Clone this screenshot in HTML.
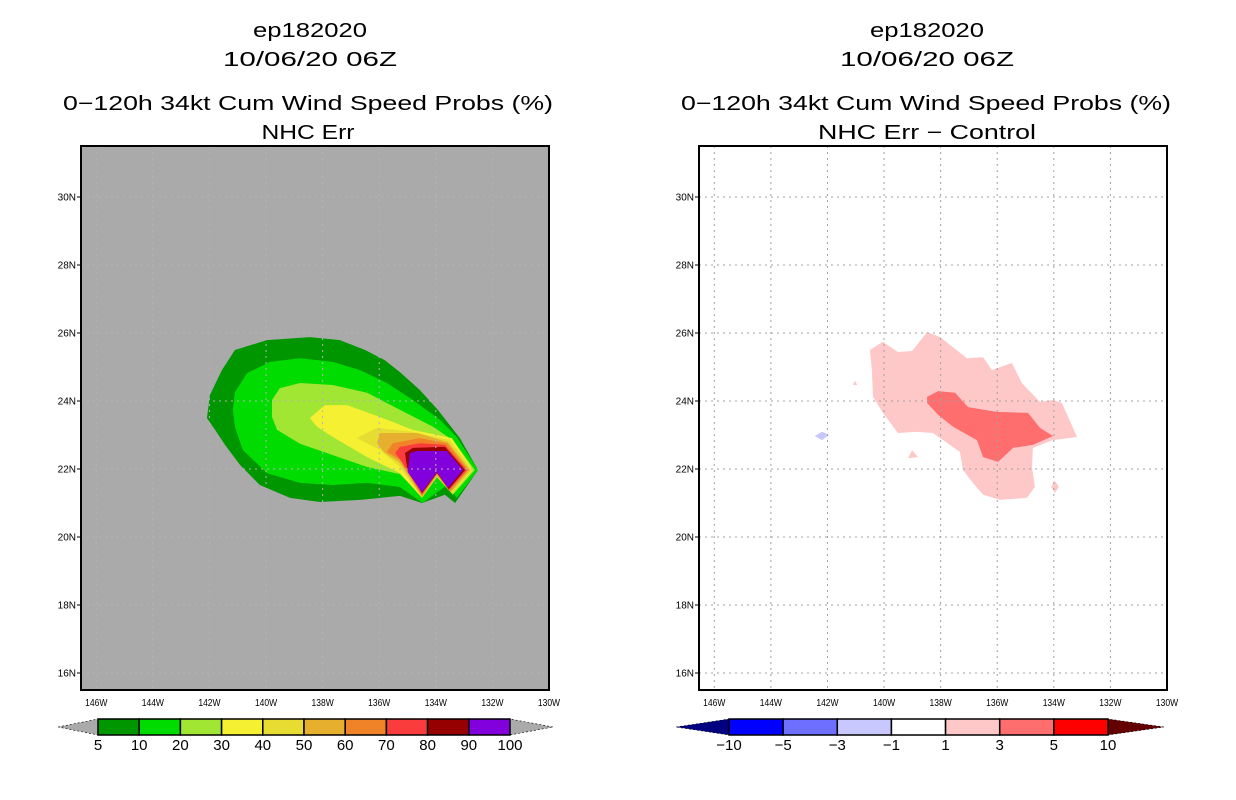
<!DOCTYPE html>
<html><head><meta charset="utf-8">
<style>
html,body{margin:0;padding:0;background:#fff;}
svg{display:block;font-family:"Liberation Sans",sans-serif;}
</style></head>
<body>
<svg id="chart" width="1236" height="800" viewBox="0 0 1236 800" xmlns="http://www.w3.org/2000/svg">
<g font-size="20" text-anchor="middle" fill="#000">
<text x="310" y="37" textLength="114" lengthAdjust="spacingAndGlyphs">ep182020</text>
<text x="310" y="66" textLength="174" lengthAdjust="spacingAndGlyphs">10/06/20 06Z</text>
<text x="308" y="110" textLength="490" lengthAdjust="spacingAndGlyphs">0−120h 34kt Cum Wind Speed Probs (%)</text>
<text x="308" y="139" textLength="93" lengthAdjust="spacingAndGlyphs">NHC Err</text>
</g>
<g font-size="20" text-anchor="middle" fill="#000">
<text x="927" y="37" textLength="114" lengthAdjust="spacingAndGlyphs">ep182020</text>
<text x="927" y="66" textLength="174" lengthAdjust="spacingAndGlyphs">10/06/20 06Z</text>
<text x="926" y="110" textLength="490" lengthAdjust="spacingAndGlyphs">0−120h 34kt Cum Wind Speed Probs (%)</text>
<text x="927" y="139" textLength="218" lengthAdjust="spacingAndGlyphs">NHC Err − Control</text>
</g>
<g id="left"></g>
<g id="right"></g>
<g id="cbars"></g>
</svg>
<script>
const NS='http://www.w3.org/2000/svg';
const lonTicks=[146,144,142,140,138,136,134,132,130];
const latTicks=[30,28,26,24,22,20,18,16];
const probLevels=['5','10','20','30','40','50','60','70','80','90','100'];
const probColors=['#009600','#00dc00','#a0e632','#f5f032','#e6dc32','#e6af2d','#f08228','#fa3c3c','#960000','#8200dc'];
const diffLevels=['−10','−5','−3','−1','1','3','5','10'];
const diffColors=['#0000ff','#6e6eff','#c8c8ff','#ffffff','#ffc8c8','#ff6e6e','#ff0000'];
// probability contour polygons [lonW, latN], levels 5..90
const prob5=[[141.1,25.5],[139.97,25.79],[138.45,25.88],[137.39,25.79],[136.5,25.5],[135.8,25.2],[135.27,24.85],[134.56,24.32],[133.93,23.74],[133.15,22.91],[132.51,21.97],[133.32,21.0],[133.68,21.24],[134.49,21.0],[135.27,21.21],[136.68,21.09],[138.1,21.03],[139.15,21.15],[140.22,21.53],[140.92,22.12],[141.45,22.71],[141.8,23.15],[142.09,23.5],[141.98,24.18],[141.56,24.91]];
const prob10=[[141.1,24.26],[140.67,24.82],[139.86,25.15],[138.8,25.26],[137.64,25.15],[136.68,24.91],[135.73,24.53],[134.81,24.03],[133.85,23.44],[133.26,22.94],[132.51,21.97],[133.26,21.15],[133.61,21.53],[134.46,21.0],[135.27,21.47],[136.43,21.59],[137.64,21.53],[138.8,21.59],[139.97,21.88],[140.82,22.56],[141.1,23.24],[141.17,23.74]];
const prob20=[[139.79,24.03],[139.51,24.38],[138.8,24.53],[137.64,24.47],[136.43,24.24],[135.27,23.74],[134.1,23.24],[133.4,22.85],[132.62,21.97],[133.4,21.24],[133.96,21.76],[134.49,21.18],[135.27,21.85],[136.43,22.06],[137.64,22.41],[138.8,22.74],[139.61,23.15],[139.79,23.53]];
const prob30=[[138.45,23.5],[137.92,23.88],[137.14,23.88],[135.97,23.53],[134.81,23.15],[133.43,22.91],[132.69,21.97],[133.4,21.29],[133.96,21.79],[134.49,21.15],[135.27,21.88],[136.43,22.35],[137.64,22.94],[138.2,23.24]];
const prob40=[[136.79,22.91],[136.08,23.21],[134.81,23.09],[133.5,22.85],[132.72,21.97],[133.43,21.29],[133.96,21.76],[134.49,21.15],[135.27,22.06],[135.97,22.56],[136.58,22.82]];
const prob50=[[136.08,22.76],[135.97,23.06],[134.67,23.06],[133.57,22.79],[132.79,21.97],[133.47,21.32],[133.96,21.79],[134.49,21.18],[135.27,22.18],[135.8,22.47]];
const prob60=[[135.73,22.5],[135.52,22.76],[134.56,22.91],[133.61,22.76],[132.86,21.97],[133.5,21.35],[133.96,21.85],[134.49,21.21],[135.27,22.27]];
const prob70=[[135.44,22.47],[135.27,22.65],[134.56,22.76],[133.68,22.71],[132.9,21.97],[133.54,21.38],[133.96,21.88],[134.49,21.26],[135.2,22.21]];
const prob80=[[135.09,22.47],[134.81,22.62],[133.68,22.65],[132.97,21.97],[133.54,21.41],[133.96,21.88],[134.49,21.29],[135.02,22.06]];
const prob90=[[134.92,22.47],[134.67,22.53],[133.61,22.53],[133.04,21.97],[133.57,21.44],[133.96,21.91],[134.49,21.32],[134.99,21.91]];
const probPolys=[prob5,prob10,prob20,prob30,prob40,prob50,prob60,prob70,prob80,prob90];
// difference contour polygons
const diffPos1=[[140.5,25.5],[140.04,25.74],[139.51,25.44],[139.01,25.47],[138.48,26.03],[138.02,25.88],[137.07,25.26],[136.5,25.29],[136.19,24.91],[135.48,25.12],[135.13,24.53],[134.49,23.97],[134.03,24.03],[133.71,23.94],[133.18,22.94],[134.03,22.85],[134.74,22.62],[134.77,22.06],[134.67,21.47],[134.95,21.15],[135.9,21.09],[136.5,21.24],[136.86,21.59],[137.21,21.97],[137.32,22.5],[138.27,23.06],[138.84,23.09],[139.51,23.06],[140.04,23.65],[140.39,24.12],[140.43,24.91]];
const diffPos3=[[138.48,24.12],[138.09,24.29],[137.49,24.24],[137.03,23.82],[136.01,23.68],[134.91,23.65],[134.49,23.21],[134.03,22.97],[134.74,22.71],[135.44,22.62],[135.97,22.21],[136.5,22.35],[136.72,22.85],[137.56,23.24],[138.09,23.59],[138.48,23.94]];
const diffPosIsl1=[[141.03,24.6],[141.1,24.47],[140.95,24.47]];
const diffPosIsl2=[[139.01,22.55],[138.8,22.35],[139.15,22.32]];
const diffPosIsl3=[[133.96,21.65],[133.82,21.47],[133.96,21.3],[134.1,21.47]];
const diffNegIsl=[[142.19,23.1],[141.95,23.0],[142.19,22.85],[142.45,22.97]];
const diffPolys=[[diffPos1,4],[diffPos3,5],[diffPosIsl1,4],[diffPosIsl2,4],[diffPosIsl3,4],[diffNegIsl,2]];

const WEST=146.54, EAST=130, NORTH=31.5, SOUTH=15.5;
function mk(tag,attrs,parent){const e=document.createElementNS(NS,tag);for(const k in attrs)e.setAttribute(k,attrs[k]);parent.appendChild(e);return e;}
function panel(gid,x0,bg,polys,colors,gridColor){
  const g=document.getElementById(gid);
  const W=468,H=544,y0=146;
  const xs=lon=>x0+(WEST-lon)/(WEST-EAST)*W;
  const ys=lat=>y0+(NORTH-lat)/(NORTH-SOUTH)*H;
  const bgR=mk('rect',{x:x0,y:y0,width:W,height:H,fill:bg},g);
  
  
  polys.forEach(([pts,ci],i)=>{
    const p=mk('polygon',{points:pts.map(q=>xs(q[0]).toFixed(1)+','+ys(q[1]).toFixed(1)).join(' '),fill:colors[ci]},g);
    
    
  });
  lonTicks.forEach(l=>{
    const x=xs(l);
    if(x>x0+2&&x<x0+W-2){const gl=mk('line',{x1:x,y1:y0,x2:x,y2:y0+H,stroke:gridColor,'stroke-width':1,'stroke-dasharray':'2,4'},g);
      
      }
    const t=mk('text',{x:x,y:y0+H+16,'font-size':10,'text-anchor':'middle',fill:'#000',transform:`translate(${x},0) scale(0.85,1) translate(${-x},0)`},g);
    t.textContent=l+'W';
    
    
  });
  latTicks.forEach(l=>{
    const y=ys(l);
    const gl=mk('line',{x1:x0,y1:y,x2:x0+W,y2:y,stroke:gridColor,'stroke-width':1,'stroke-dasharray':'2,4'},g);
    
    
    const tk=mk('line',{x1:x0-4,y1:y,x2:x0,y2:y,stroke:'#000'},g);
    
    
    const t=mk('text',{x:x0-5,y:y+3.5,'font-size':10,'text-anchor':'end',fill:'#000'},g);
    t.textContent=l+'N';
    
    
  });
  const fr=mk('rect',{x:x0,y:y0,width:W,height:H,fill:'none',stroke:'#000','stroke-width':2},g);
  
  
}
panel('left',81,'#aaaaaa',probPolys.map((p,i)=>[p,i]),probColors,'#b4b4b4');
panel('right',699,'#ffffff',diffPolys,diffColors,'#a0a0a0');

function colorbar(x0,x1,lt,rt,colors,labels,ltCol,rtCol){
  const g=document.getElementById('cbars');
  const y0=719,h=16,n=colors.length,w=(x1-x0)/n;
  const a=mk('polygon',{points:`${lt},${y0+h/2} ${x0},${y0} ${x0},${y0+h}`,fill:ltCol,stroke:'#000','stroke-width':0.6,'stroke-dasharray':'2,2'},g);
  
  
  const b=mk('polygon',{points:`${rt},${y0+h/2} ${x1},${y0} ${x1},${y0+h}`,fill:rtCol,stroke:'#000','stroke-width':0.6,'stroke-dasharray':'2,2'},g);
  
  
  colors.forEach((c,i)=>{
    const r=mk('rect',{x:x0+i*w,y:y0,width:w,height:h,fill:c,stroke:'#000','stroke-width':1.5},g);
    
    
  });
  labels.forEach((l,i)=>{
    const t=mk('text',{x:x0+i*w,y:y0+h+15,'font-size':15,'text-anchor':'middle',fill:'#000'},g);
    t.textContent=l;
    
    
  });
}
colorbar(98,510,58,553,probColors,probLevels,'#aaaaaa','#aaaaaa');
colorbar(729,1108,676,1164,diffColors,diffLevels,'#000080','#640000');
</script>
</body></html>
